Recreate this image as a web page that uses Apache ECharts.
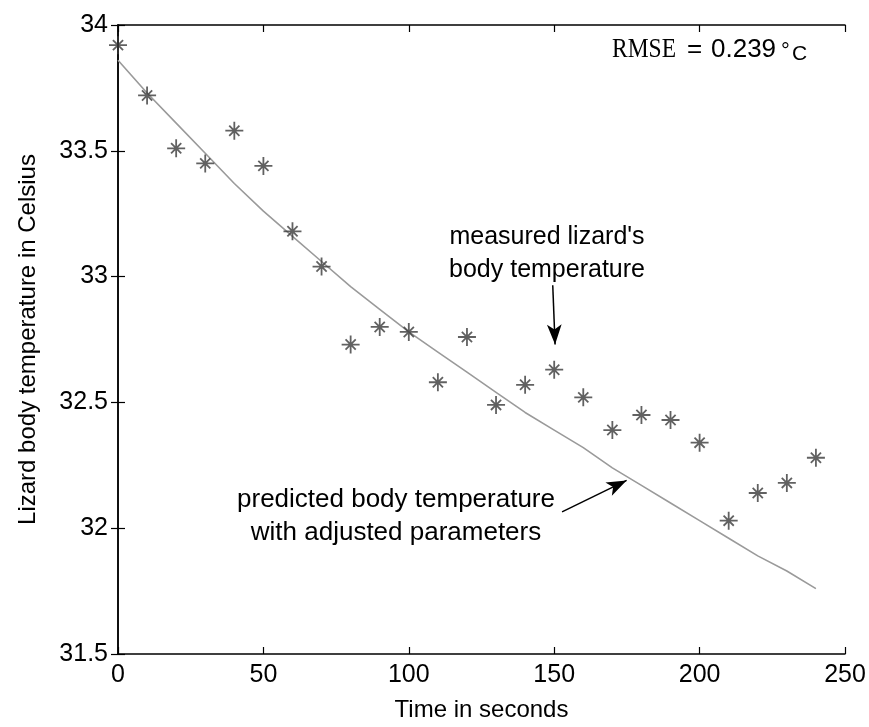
<!DOCTYPE html>
<html>
<head>
<meta charset="utf-8">
<script src="https://cdn.jsdelivr.net/npm/echarts@6/dist/echarts.min.js"></script>
<style>html,body{margin:0;padding:0;background:#fff}#c{width:869px;height:727px}</style>
</head>
<body>
<div id="c"></div>
<script>
// ---- data ----
const timeSeconds = [0,10,20,30,40,50,60,70,80,90,100,110,120,130,140,150,160,170,180,190,200,210,220,230,240];
const measuredTemp = [33.92,33.72,33.51,33.45,33.58,33.44,33.18,33.04,32.73,32.80,32.78,32.58,32.76,32.49,32.57,32.63,32.52,32.39,32.45,32.43,32.34,32.03,32.14,32.18,32.28];
const predictedTemp = [33.86,33.73,33.61,33.49,33.37,33.26,33.16,33.06,32.96,32.87,32.78,32.70,32.62,32.54,32.46,32.39,32.32,32.24,32.17,32.10,32.03,31.96,31.89,31.83,31.76];
const xTicks = [0,50,100,150,200,250];
const yTicks = [31.5,32,32.5,33,33.5,34];
const arrowMeasured = [[149.5,32.966],[150.3,32.73]];
const arrowPredicted = [[152.7,32.065],[174.9,32.19]];

const star = 'path://M-1,-10L1,-10L1,10L-1,10Z M-10,-1L10,-1L10,1L-10,1Z M-6.36,-4.95L-4.95,-6.36L6.36,4.95L4.95,6.36Z M6.36,-4.95L-4.95,6.36L-6.36,4.95L4.95,-6.36Z';

const chart = echarts.init(document.getElementById('c'));
const font = 'Liberation Sans, Arial, sans-serif';
const axisCommon = {
  type: 'value',
  axisLine: {show: true, lineStyle: {color: '#000', width: 1.5}},
  axisTick: {show: true, inside: true, length: 7, lineStyle: {color: '#000', width: 1.2}},
  splitLine: {show: false}
};
function arrowPair(p) {
  return [
    {coord: p[0], symbol: 'none'},
    {coord: p[1], symbol: 'arrow', symbolSize: [11, 20]}
  ];
}
chart.setOption({
  backgroundColor: '#fff',
  animation: false,
  grid: {left: 118, right: 24, top: 25, bottom: 69, containLabel: false},
  xAxis: [
    Object.assign({}, axisCommon, {
      min: 0, max: 250, interval: 50, position: 'bottom',
      axisLabel: {color: '#000', fontSize: 25, fontFamily: font, margin: 9},
      name: 'Time in seconds', nameLocation: 'middle', nameGap: 44,
      nameTextStyle: {color: '#000', fontSize: 24, fontFamily: font}
    }),
    Object.assign({}, axisCommon, {
      min: 0, max: 250, interval: 50, position: 'top', axisLabel: {show: false}
    })
  ],
  yAxis: [
    Object.assign({}, axisCommon, {
      min: 31.5, max: 34, interval: 0.5, position: 'left',
      axisLabel: {color: '#000', fontSize: 25, fontFamily: font, margin: 10,
        formatter: v => String(+v.toFixed(1))},
      name: 'Lizard body temperature in Celsius', nameLocation: 'middle', nameGap: 78,
      nameTextStyle: {color: '#000', fontSize: 24, fontFamily: font}
    }),
    Object.assign({}, axisCommon, {
      min: 31.5, max: 34, interval: 0.5, position: 'right', axisLabel: {show: false}
    })
  ],
  series: [
    {
      type: 'line', name: 'predicted',
      data: timeSeconds.map((t, i) => [t, predictedTemp[i]]),
      showSymbol: false, symbol: 'none', smooth: false,
      lineStyle: {color: '#9a9a9a', width: 1.6},
      z: 2
    },
    {
      type: 'scatter', name: 'measured',
      data: timeSeconds.map((t, i) => [t, measuredTemp[i]]),
      symbol: star, symbolSize: 18,
      itemStyle: {color: '#3a3a3a'},
      z: 3
    },
    {
      type: 'line', name: 'arrows', data: [], silent: true,
      markLine: {
        silent: true, animation: false,
        symbol: 'none',
        label: {show: false},
        emphasis: {disabled: true},
        lineStyle: {color: '#000', width: 1.5, type: 'solid'},
        itemStyle: {color: '#000'},
        data: [arrowPair(arrowMeasured), arrowPair(arrowPredicted)]
      }
    }
  ],
  graphic: [
    {type: 'text', x: 612, y: 50, scaleX: 0.84, style: {text: 'RMSE', fontFamily: 'Liberation Serif, Times New Roman, serif', fontSize: 28, fill: '#000', verticalAlign: 'middle'}},
    {type: 'text', x: 687, y: 50, style: {text: '=', fontFamily: font, fontSize: 26, fill: '#000', verticalAlign: 'middle'}},
    {type: 'text', x: 711, y: 50, style: {text: '0.239', fontFamily: font, fontSize: 26, fill: '#000', verticalAlign: 'middle'}},
    {type: 'text', x: 781, y: 52, style: {text: '°', fontFamily: font, fontSize: 22, fill: '#000', verticalAlign: 'middle'}},
    {type: 'text', x: 792, y: 54, style: {text: 'C', fontFamily: font, fontSize: 21, fill: '#000', verticalAlign: 'middle'}},
    {type: 'text', x: 547, y: 254, style: {
      text: "measured lizard's\nbody temperature", fontFamily: font, fontSize: 25,
      lineHeight: 33, fill: '#000', align: 'center', verticalAlign: 'middle'
    }},
    {type: 'text', x: 396, y: 516, style: {
      text: 'predicted body temperature\nwith adjusted parameters', fontFamily: font, fontSize: 26,
      lineHeight: 33, fill: '#000', align: 'center', verticalAlign: 'middle'
    }}
  ]
});
</script>
</body>
</html>
